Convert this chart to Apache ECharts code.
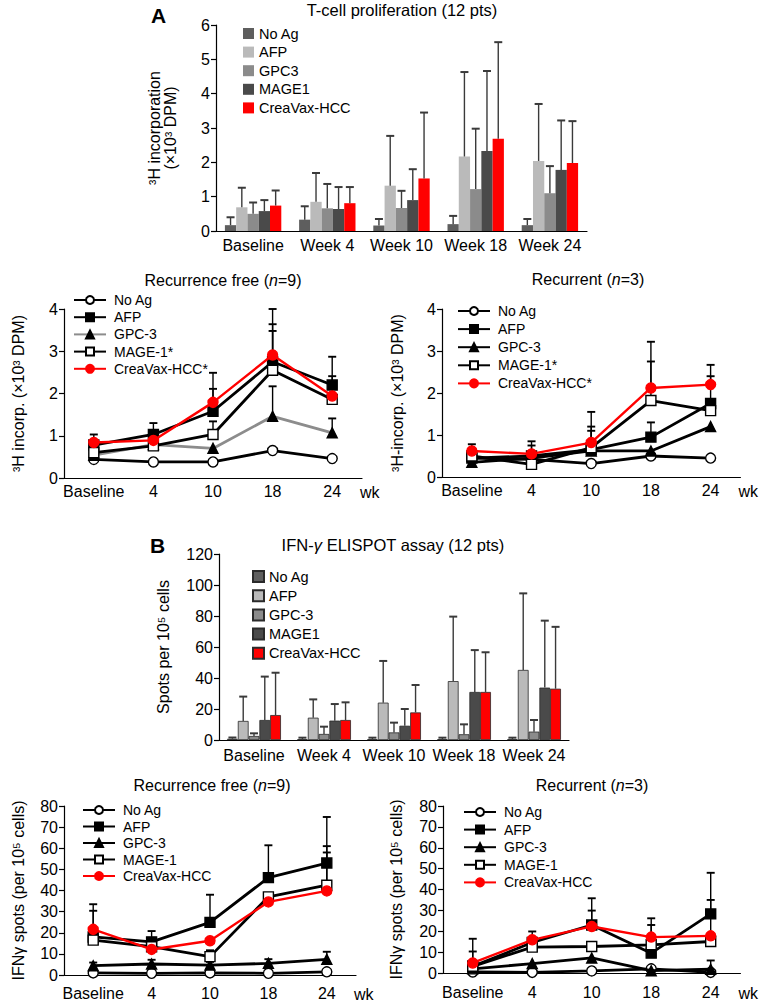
<!DOCTYPE html>
<html><head><meta charset="utf-8">
<script src="https://cdn.jsdelivr.net/npm/echarts@6/dist/echarts.min.js"></script>
<style>html,body{margin:0;padding:0;background:#fff}#c{width:759px;height:1003px}</style>
</head><body><div id="c"></div>
<script>
const FONT = '"Liberation Sans", Arial, Helvetica, "DejaVu Sans", sans-serif';

// ---------- categories ----------
const barCats = ['Baseline', 'Week 4', 'Week 10', 'Week 18', 'Week 24'];
const lineCats = ['Baseline', '4', '10', '18', '24'];

// ---------- Panel A bar: T-cell proliferation (x10^3 DPM) ----------
const aBarNames = ['No Ag', 'AFP', 'GPC3', 'MAGE1', 'CreaVax-HCC'];
const aBarNoAg = [0.17, 0.33, 0.16, 0.20, 0.17];
const aBarAFP = [0.69, 0.85, 1.32, 2.17, 2.04];
const aBarGPC3 = [0.50, 0.66, 0.67, 1.22, 1.10];
const aBarMAGE1 = [0.58, 0.64, 0.90, 2.33, 1.78];
const aBarCrea = [0.74, 0.81, 1.53, 2.69, 1.98];
const aBarNoAgErr = [0.23, 0.39, 0.19, 0.24, 0.18];
const aBarAFPErr = [0.57, 0.84, 1.45, 2.46, 1.66];
const aBarGPC3Err = [0.33, 0.71, 0.50, 1.76, 0.79];
const aBarMAGE1Err = [0.32, 0.64, 0.90, 2.33, 1.44];
const aBarCreaErr = [0.44, 0.47, 1.92, 2.81, 1.22];

// ---------- Panel A line: Recurrence free (n=9) ----------
const lineNamesA = ['No Ag', 'AFP', 'GPC-3', 'MAGE-1*', 'CreaVax-HCC*'];
const aRfNoAg = [0.44, 0.38, 0.38, 0.65, 0.46];
const aRfAFP = [0.78, 1.03, 1.58, 2.75, 2.20];
const aRfGPC3 = [0.54, 0.79, 0.70, 1.46, 1.07];
const aRfMAGE1 = [0.60, 0.76, 1.03, 2.55, 1.86];
const aRfCrea = [0.84, 0.89, 1.79, 2.91, 1.94];
const aRfNoAgErr = [null, null, null, null, null];
const aRfAFPErr = [0.25, 0.27, 0.53, 0.89, 0.67];
const aRfGPC3Err = [null, null, null, 0.71, 0.34];
const aRfMAGE1Err = [null, null, 0.31, 0.93, null];
const aRfCreaErr = [null, null, 0.70, 1.09, 0.47];

// ---------- Panel A line: Recurrent (n=3) ----------
const aRcNoAg = [0.45, 0.42, 0.32, 0.50, 0.45];
const aRcAFP = [0.45, 0.50, 0.65, 0.95, 1.75];
const aRcGPC3 = [0.35, 0.45, 0.62, 0.62, 1.20];
const aRcMAGE1 = [0.50, 0.30, 0.70, 1.82, 1.58];
const aRcCrea = [0.62, 0.55, 0.82, 2.12, 2.20];
const aRcNoAgErr = [null, null, null, null, null];
const aRcAFPErr = [null, 0.35, 0.55, 0.35, 0.65];
const aRcGPC3Err = [null, null, null, null, null];
const aRcMAGE1Err = [null, null, 0.40, 1.40, null];
const aRcCreaErr = [0.16, 0.20, 0.73, 0.63, 0.47];

// ---------- Panel B bar: IFN-gamma ELISPOT (spots per 10^5 cells) ----------
const bBarNames = ['No Ag', 'AFP', 'GPC-3', 'MAGE1', 'CreaVax-HCC'];
const bBarNoAg = [0.8, 0.5, 0.5, 0.5, 0.5];
const bBarAFP = [12.3, 14.4, 24.1, 38.0, 45.2];
const bBarGPC3 = [2.6, 3.9, 4.9, 3.7, 5.4];
const bBarMAGE1 = [12.9, 12.5, 9.2, 31.0, 33.8];
const bBarCrea = [16.1, 12.9, 17.8, 31.0, 33.1];
const bBarNoAgErr = [0.8, 1.0, 1.0, 1.0, 1.0];
const bBarAFPErr = [15.7, 11.8, 26.9, 41.6, 49.4];
const bBarGPC3Err = [1.7, 4.7, 6.3, 6.4, 7.5];
const bBarMAGE1Err = [28.0, 10.7, 10.8, 27.0, 43.2];
const bBarCreaErr = [27.3, 11.4, 17.7, 25.6, 39.9];

// ---------- Panel B line: Recurrence free (n=9) ----------
const lineNamesB = ['No Ag', 'AFP', 'GPC-3', 'MAGE-1', 'CreaVax-HCC'];
const bRfNoAg = [1.0, 0.8, 1.0, 0.8, 1.5];
const bRfAFP = [18.0, 15.7, 24.9, 46.1, 53.0];
const bRfGPC3 = [4.4, 5.2, 4.7, 5.5, 7.4];
const bRfMAGE1 = [16.5, 13.4, 8.7, 37.0, 42.5];
const bRfCrea = [21.6, 12.1, 16.2, 34.6, 39.8];
const bRfNoAgErr = [null, null, null, null, null];
const bRfAFPErr = [12.4, 5.1, 13.1, 15.3, 21.8];
const bRfGPC3Err = [1.5, 2.0, 1.5, 2.0, 3.6];
const bRfMAGE1Err = [null, null, 3.0, null, 15.5];
const bRfCreaErr = [11.9, null, null, null, 21.2];

// ---------- Panel B line: Recurrent (n=3) ----------
const bRcNoAg = [0.5, 0.3, 1.0, 2.0, 0.3];
const bRcAFP = [3.2, 14.6, 23.0, 9.5, 28.3];
const bRcGPC3 = [2.0, 4.5, 7.2, 1.1, 1.8];
const bRcMAGE1 = [3.2, 12.4, 12.7, 13.5, 15.1];
const bRcCrea = [4.8, 15.9, 22.3, 17.2, 17.8];
const bRcNoAgErr = [null, null, null, null, null];
const bRcAFPErr = [7.1, 5.3, 12.8, 13.5, 6.7];
const bRcGPC3Err = [null, null, null, null, 4.2];
const bRcMAGE1Err = [null, null, null, null, null];
const bRcCreaErr = [11.6, null, 7.6, 9.0, 30.2];

// ---------- styling ----------
const barColors = ['#5e5e5e', '#bababa', '#8b8b8b', '#4a4a4a', '#ff0000'];
const lineStyles = [
  { symbol: 'circle', fill: '#ffffff', line: '#000', size: 10 },
  { symbol: 'rect', fill: '#000000', line: '#000', size: 10 },
  { symbol: 'triangle', fill: '#000000', line: '#000', size: 10 },
  { symbol: 'rect', fill: '#ffffff', line: '#000', size: 10 },
  { symbol: 'circle', fill: '#ff0000', line: '#ff0000', size: 10 }
];

const series = [];
const legends = [];

function barErrRender(gapFrac, n) {
  return function (params, api) {
    const ci = api.value(0), si = api.value(1), m = api.value(2), e = api.value(3);
    const band = api.size([1, 0])[0];
    const groupW = band * (1 - gapFrac);
    const bw = groupW / n;
    const c = api.coord([ci, m]);
    const t = api.coord([ci, m + e]);
    const x = c[0] - groupW / 2 + bw * (si + 0.5);
    return {
      type: 'group', children: [
        { type: 'line', shape: { x1: x, y1: c[1], x2: x, y2: t[1] }, style: { stroke: '#3a3a3a', lineWidth: 1.4 } },
        { type: 'line', shape: { x1: x - 4, y1: t[1], x2: x + 4, y2: t[1] }, style: { stroke: '#3a3a3a', lineWidth: 2 } }
      ]
    };
  };
}

function lineErrRender(params, api) {
  const ci = api.value(0), m = api.value(1), e = api.value(2);
  const c = api.coord([ci, m]);
  const t = api.coord([ci, m + e]);
  return {
    type: 'group', children: [
      { type: 'line', shape: { x1: c[0], y1: c[1], x2: c[0], y2: t[1] }, style: { stroke: '#000', lineWidth: 1.4 } },
      { type: 'line', shape: { x1: c[0] - 4, y1: t[1], x2: c[0] + 4, y2: t[1] }, style: { stroke: '#000', lineWidth: 1.9 } }
    ]
  };
}

function addBars(prefix, gi, names, vals, errs, gap, border, legendPos) {
  const nm = names.map(n => prefix + '|' + n);
  names.forEach((n, i) => {
    series.push({
      name: nm[i], type: 'bar', xAxisIndex: gi, yAxisIndex: gi, data: vals[i],
      barGap: '0%', barCategoryGap: (gap * 100) + '%',
      itemStyle: { color: barColors[i], borderColor: border ? '#2a2a2a' : barColors[i], borderWidth: border ? 0.8 : 0 },
      emphasis: { disabled: true }, z: 2
    });
  });
  const ed = [];
  errs.forEach((arr, si) => arr.forEach((e, ci) => { if (e != null) ed.push([ci, si, vals[si][ci], e]); }));
  series.push({
    type: 'custom', xAxisIndex: gi, yAxisIndex: gi, data: ed, encode: { x: 0, y: 2 },
    renderItem: barErrRender(gap, names.length), z: 3, silent: true, clip: false
  });
  legends.push({
    orient: 'vertical', left: legendPos[0], top: legendPos[1], itemGap: legendPos[2], padding: 0,
    itemWidth: 11, itemHeight: 11, icon: 'rect', data: nm, selectedMode: false,
    formatter: n => n.split('|')[1],
    textStyle: { fontSize: 14.5, color: '#000', fontFamily: FONT }
  });
}

function addLines(prefix, gi, names, vals, errs, lineColorOverride, legendPos) {
  const nm = names.map(n => prefix + '|' + n);
  const ed = [];
  errs.forEach((arr, si) => arr.forEach((e, ci) => { if (e != null) ed.push([ci, vals[si][ci], e]); }));
  series.push({
    type: 'custom', xAxisIndex: gi, yAxisIndex: gi, data: ed, encode: { x: 0, y: 1 },
    renderItem: lineErrRender, z: 1, silent: true, clip: false
  });
  names.forEach((n, i) => {
    const st = lineStyles[i];
    const lc = (lineColorOverride && lineColorOverride[i]) || st.line;
    series.push({
      name: nm[i], type: 'line', xAxisIndex: gi, yAxisIndex: gi, data: vals[i],
      symbol: st.symbol, symbolSize: st.size, showAllSymbol: true,
      lineStyle: { color: lc, width: i === 4 ? 2.4 : 2.8 },
      itemStyle: { color: st.fill, borderColor: i === 4 ? '#ff0000' : '#000', borderWidth: 1.4 },
      emphasis: { disabled: true }, z: 2 + i
    });
  });
  legends.push({
    orient: 'vertical', left: legendPos[0], top: legendPos[1], itemGap: legendPos[2], padding: 0,
    itemWidth: 32, itemHeight: 10, data: nm, selectedMode: false,
    formatter: n => n.split('|')[1],
    textStyle: { fontSize: 14, color: '#000', fontFamily: FONT, padding: [0, 0, 0, 3] }
  });
}

addBars('aBar', 0, aBarNames,
  [aBarNoAg, aBarAFP, aBarGPC3, aBarMAGE1, aBarCrea],
  [aBarNoAgErr, aBarAFPErr, aBarGPC3Err, aBarMAGE1Err, aBarCreaErr], 0.24, false, [243, 26, 3.6]);
addLines('aRf', 1, lineNamesA,
  [aRfNoAg, aRfAFP, aRfGPC3, aRfMAGE1, aRfCrea],
  [aRfNoAgErr, aRfAFPErr, aRfGPC3Err, aRfMAGE1Err, aRfCreaErr],
  [null, null, '#8c8c8c', null, null], [73, 293, 3.2]);
addLines('aRc', 2, lineNamesA,
  [aRcNoAg, aRcAFP, aRcGPC3, aRcMAGE1, aRcCrea],
  [aRcNoAgErr, aRcAFPErr, aRcGPC3Err, aRcMAGE1Err, aRcCreaErr],
  null, [457, 304, 4.1]);
addBars('bBar', 3, bBarNames,
  [bBarNoAg, bBarAFP, bBarGPC3, bBarMAGE1, bBarCrea],
  [bBarNoAgErr, bBarAFPErr, bBarGPC3Err, bBarMAGE1Err, bBarCreaErr], 0.23, true, [252, 569, 4.2]);
addLines('bRf', 4, lineNamesB,
  [bRfNoAg, bRfAFP, bRfGPC3, bRfMAGE1, bRfCrea],
  [bRfNoAgErr, bRfAFPErr, bRfGPC3Err, bRfMAGE1Err, bRfCreaErr],
  null, [82, 803, 2.5]);
addLines('bRc', 5, lineNamesB,
  [bRcNoAg, bRcAFP, bRcGPC3, bRcMAGE1, bRcCrea],
  [bRcNoAgErr, bRcAFPErr, bRcGPC3Err, bRcMAGE1Err, bRcCreaErr],
  null, [463, 805, 3.6]);

// ---------- axes ----------
const axisLine = { show: true, lineStyle: { color: '#000', width: 1.2 } };
function xAx(gi, cats, margin, wk) {
  const o = {
    type: 'category', gridIndex: gi, data: cats, boundaryGap: true,
    axisLine: axisLine, axisTick: { show: false },
    axisLabel: { color: '#000', fontSize: 16, fontFamily: FONT, margin: margin, interval: 0 },
    splitLine: { show: false }
  };
  if (wk) {
    o.name = 'wk'; o.nameLocation = 'end'; o.nameGap = -2;
    o.nameTextStyle = { color: '#000', fontSize: 16, fontFamily: FONT, verticalAlign: 'top', padding: [margin + 1, 0, 0, 0] };
  }
  return o;
}
function yAx(gi, max, interval, name, nameGap, lh) {
  return {
    type: 'value', gridIndex: gi, min: 0, max: max, interval: interval,
    axisLine: axisLine, axisTick: { show: true, inside: false, length: 5, lineStyle: { color: '#000', width: 1.2 } },
    axisLabel: { color: '#000', fontSize: 16, fontFamily: FONT, margin: 6 },
    splitLine: { show: false },
    name: name, nameLocation: 'middle', nameGap: nameGap, nameRotate: 90,
    nameTextStyle: { color: '#000', fontSize: 16, fontFamily: FONT, lineHeight: lh || 19, align: 'center' }
  };
}

function txt(x, y, text, size, extra) {
  return {
    type: 'text', x: x, y: y,
    style: Object.assign({
      text: text, fontSize: size, fontFamily: FONT, fill: '#000',
      align: 'center', verticalAlign: 'middle', textAlign: 'center', textVerticalAlign: 'middle',
      rich: { i: { fontStyle: 'italic', fontSize: size, fontFamily: FONT } }
    }, extra || {})
  };
}

const option = {
  animation: false,
  textStyle: { fontFamily: FONT },
  grid: [
    { left: 216, top: 25, width: 371, height: 206 },
    { left: 64, top: 309, width: 298, height: 169 },
    { left: 442, top: 309, width: 306, height: 168 },
    { left: 219, top: 554, width: 350, height: 186 },
    { left: 64, top: 806, width: 292, height: 169 },
    { left: 443, top: 806, width: 302, height: 167 }
  ],
  xAxis: [
    xAx(0, barCats, 6, false),
    xAx(1, lineCats, 5, true),
    xAx(2, lineCats, 5, true),
    xAx(3, barCats, 7, false),
    xAx(4, lineCats, 10, true),
    xAx(5, lineCats, 11, true)
  ],
  yAxis: [
    yAx(0, 6, 1, '³H incorporation\n(×10³ DPM)', 37, 16.5),
    yAx(1, 4, 1, '³H incorp. (×10³ DPM)', 36),
    yAx(2, 4, 1, '³H-incorp. (×10³ DPM)', 35),
    yAx(3, 120, 20, 'Spots per 10⁵ cells', 46),
    yAx(4, 80, 10, 'IFNγ spots (per 10⁵ cells)', 36),
    yAx(5, 80, 10, 'IFNγ spots (per 10⁵ cells)', 37)
  ],
  legend: legends,
  graphic: [
    txt(151, 15, 'A', 21, { fontWeight: 'bold', align: 'left', textAlign: 'left' }),
    txt(402, 10, 'T-cell proliferation (12 pts)', 16.5),
    txt(223, 280, 'Recurrence free ({i|n}=9)', 16),
    txt(588, 279, 'Recurrent ({i|n}=3)', 16),
    txt(150, 545, 'B', 21, { fontWeight: 'bold', align: 'left', textAlign: 'left' }),
    txt(393, 545, 'IFN-{i|γ} ELISPOT assay (12 pts)', 16.5),
    txt(212, 785, 'Recurrence free ({i|n}=9)', 16),
    txt(592, 785, 'Recurrent ({i|n}=3)', 16)
  ],
  series: series
};

const chart = echarts.init(document.getElementById('c'), null, { renderer: 'svg', width: 759, height: 1003 });
chart.setOption(option);
</script>
</body></html>
